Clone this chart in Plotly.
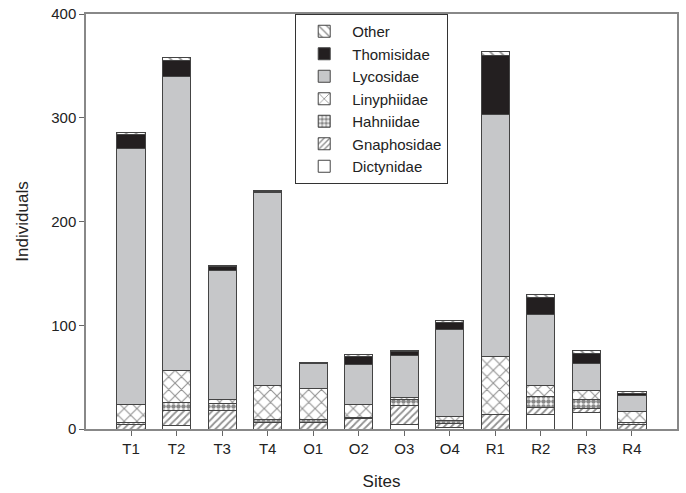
import plotly.graph_objects as go

sites = ["T1", "T2", "T3", "T4", "O1", "O2", "O3", "O4", "R1", "R2", "R3", "R4"]

dictynidae  = [0, 3, 0, 0, 0, 0, 4.5, 1.5, 0, 13.5, 16, 0]
gnaphosidae = [4.5, 15, 18, 6.5, 6, 10, 18, 4, 14, 7, 3.5, 4]
hahniidae   = [1.5, 7.5, 7, 2.5, 3.5, 1, 5.5, 3, 0, 11, 9, 2]
linyphiidae = [17.5, 31, 3, 32.5, 29.5, 13, 2.5, 3.5, 56, 10.5, 8.5, 11]
lycosidae   = [247, 283, 125, 186, 24, 38, 40, 83.5, 233, 68.5, 26, 15]
thomisidae  = [13, 16, 4, 1.5, 0, 8, 4, 7, 57, 16.5, 10, 2]
other       = [2, 3, 1, 1, 1.5, 1.6, 1.5, 2, 4, 2.3, 2.3, 2]

y_ticks = [0, 100, 200, 300, 400]

series = [
    ("Dictynidae", dictynidae, dict(color="white")),
    ("Gnaphosidae", gnaphosidae, dict(color="white", pattern=dict(shape="/", fgcolor="#222", bgcolor="white", size=5, solidity=0.35))),
    ("Hahniidae", hahniidae, dict(color="white", pattern=dict(shape=".", fgcolor="#111", bgcolor="white", size=5, solidity=0.65))),
    ("Linyphiidae", linyphiidae, dict(color="white", pattern=dict(shape="x", fgcolor="#222", bgcolor="white", size=9, solidity=0.22))),
    ("Lycosidae", lycosidae, dict(color="#c6c7c9")),
    ("Thomisidae", thomisidae, dict(color="#231f20")),
    ("Other", other, dict(color="white", pattern=dict(shape="\\", fgcolor="#222", bgcolor="white", size=7, solidity=0.25))),
]

fig = go.Figure()
for name, vals, mk in series:
    mk = dict(mk)
    mk["line"] = dict(color="#444444", width=1)
    fig.add_trace(go.Bar(x=sites, y=vals, name=name, marker=mk))

fig.update_layout(
    barmode="stack",
    bargap=0.38,
    width=686, height=493,
    margin=dict(l=86, r=9, t=14, b=64),
    paper_bgcolor="white", plot_bgcolor="white",
    font=dict(family="Liberation Sans, Arial, sans-serif", size=14, color="#222"),
    showlegend=True,
    legend=dict(
        x=0.354, y=1, xanchor="left", yanchor="top",
        traceorder="reversed",
        bordercolor="#333", borderwidth=1, bgcolor="white",
        font=dict(size=15, color="#222"),
        tracegroupgap=0, itemwidth=46,
    ),
    xaxis=dict(
        title=dict(text="Sites", font=dict(size=17), standoff=19),
        automargin=False,
        range=[-0.99, 11.99],
        showline=True, linecolor="#888", linewidth=1.5, mirror=True,
        ticks="outside", ticklen=5, tickcolor="#666",
        tickfont=dict(size=15),
        showgrid=False, zeroline=False,
    ),
    yaxis=dict(
        title=dict(text="Individuals", font=dict(size=17), standoff=18),
        automargin=False,
        range=[0, 400], tickvals=y_ticks,
        showline=True, linecolor="#888", linewidth=1.5, mirror=True,
        ticks="outside", ticklen=5, tickcolor="#666",
        tickfont=dict(size=15),
        showgrid=False, zeroline=False,
    ),
)

fig.write_html("out.html", config={"displayModeBar": False},
               post_script="document.body.style.margin='0';")
